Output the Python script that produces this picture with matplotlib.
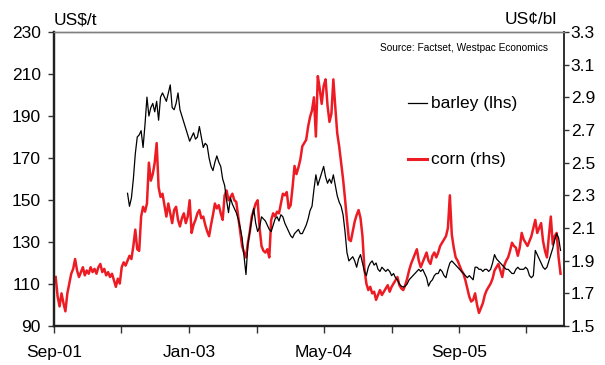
import matplotlib
matplotlib.use("Agg")
import matplotlib.pyplot as plt
import pandas as pd

plt.rcParams["font.family"] = ["Liberation Sans", "DejaVu Sans"]

# Weekly observations (Fridays), Sep 2001 - Sep 2006
dates = pd.date_range("2001-09-07", periods=261, freq="W-FRI")

# Corn price, US cents per bushel (right axis)
corn = [
    1.80, 1.68, 1.62, 1.70, 1.64, 1.59, 1.70, 1.76, 1.82, 1.85,
    1.91, 1.84, 1.80, 1.83, 1.86, 1.81, 1.84, 1.82, 1.86, 1.83,
    1.85, 1.82, 1.86, 1.88, 1.83, 1.85, 1.81, 1.83, 1.80, 1.82,
    1.78, 1.74, 1.79, 1.76, 1.86, 1.89, 1.87, 1.90, 1.93, 1.91,
    1.99, 2.09, 1.97, 1.96, 2.17, 2.23, 2.20, 2.25, 2.50, 2.39,
    2.43, 2.50, 2.62, 2.35, 2.29, 2.31, 2.24, 2.17, 2.25, 2.19,
    2.13, 2.21, 2.23, 2.15, 2.11, 2.16, 2.19, 2.13, 2.17, 2.27,
    2.07, 2.12, 2.15, 2.19, 2.21, 2.16, 2.17, 2.12, 2.08, 2.05,
    2.12, 2.18, 2.25, 2.22, 2.24, 2.19, 2.15, 2.30, 2.33, 2.27,
    2.29, 2.31, 2.27, 2.26, 2.17, 2.08, 1.99, 1.95, 1.92, 2.01,
    2.08, 2.17, 2.21, 2.25, 2.27, 2.10, 1.99, 1.96, 1.95, 1.97,
    1.92, 2.15, 2.19, 2.17, 2.20, 2.19, 2.25, 2.31, 2.30, 2.32,
    2.22, 2.24, 2.35, 2.48, 2.43, 2.47, 2.52, 2.60, 2.62, 2.64,
    2.72, 2.78, 2.82, 2.90, 2.66, 3.03, 2.95, 2.86, 2.97, 3.01,
    2.85, 2.75, 2.80, 3.01, 2.84, 2.68, 2.60, 2.50, 2.40, 2.28,
    2.15, 2.03, 2.02, 2.08, 2.14, 2.18, 2.21, 2.16, 2.05, 1.85,
    1.76, 1.72, 1.74, 1.70, 1.71, 1.66, 1.69, 1.72, 1.69, 1.71,
    1.73, 1.75, 1.71, 1.74, 1.76, 1.78, 1.80, 1.75, 1.73, 1.72,
    1.75, 1.79, 1.84, 1.88, 1.91, 1.94, 1.97, 1.90, 1.86, 1.89,
    1.92, 1.95, 1.90, 1.88, 1.93, 1.95, 1.92, 1.95, 1.99, 2.01,
    2.03, 2.05, 2.10, 2.30, 2.06, 1.98, 1.92, 1.90, 1.87, 1.84,
    1.82, 1.78, 1.73, 1.68, 1.65, 1.66, 1.70, 1.63, 1.58, 1.61,
    1.64, 1.69, 1.72, 1.74, 1.76, 1.79, 1.84, 1.86, 1.88, 1.84,
    1.80, 1.87, 1.90, 1.92, 1.96, 2.01, 1.99, 1.98, 1.93, 1.98,
    2.07, 2.03, 2.01, 1.99, 2.02, 2.05, 2.10, 2.15, 2.07, 2.10,
    2.13, 2.02, 1.96, 1.92, 2.05, 2.17, 2.00, 2.05, 2.07, 1.92,
    1.82,
]

# Barley price, US$ per tonne (left axis), series begins late May 2002
barley = [
    153.2, 147, 151,
    160, 172, 180, 181, 183, 175, 186, 199, 190, 194,
    196, 192, 197, 188, 199, 201, 199, 197, 201, 204.8,
    194, 193, 196, 201, 193, 190, 187, 184, 181, 178,
    180, 182, 179, 180, 185, 180, 175, 177, 176, 170,
    166, 164, 168, 171, 168, 166, 160, 157, 150, 144,
    151, 148, 146, 144, 141, 137, 132, 123, 114.5, 129,
    135, 141, 146, 139, 135, 137, 142, 141, 140, 138,
    136, 135, 138, 141, 142, 140, 143, 142, 139, 137,
    135, 133, 132, 134, 135, 136, 134, 134, 136, 138,
    141, 145, 147, 155, 162, 157, 160, 163, 166, 161,
    158, 160, 158, 162, 157, 152, 149, 147, 143, 135,
    125, 121, 122, 123, 121, 118, 122, 124, 120, 116,
    114, 118, 120, 121, 119, 120, 117, 116, 118, 117,
    116, 117, 116, 114, 115, 113, 112, 110, 109, 108.5,
    109, 110, 112, 113, 114, 115, 116, 117, 116, 117,
    115, 113, 109, 111, 112, 114, 115, 115, 117, 116,
    114, 113, 117, 120, 121, 120, 119, 118, 117, 116,
    115, 114, 113, 114, 113, 112, 118, 118, 117, 117,
    116, 117, 117, 116, 117, 120, 124, 122, 121, 120,
    119, 118, 117, 117, 116, 115, 115, 117, 118, 117,
    117, 117, 118, 117, 114, 113, 114, 126, 124, 122,
    120, 118, 117, 118, 121, 124, 127, 131, 134, 132,
    126,
]
barley_dates = dates[-len(barley):]

left_ticks = [90, 110, 130, 150, 170, 190, 210, 230]
right_ticks = [1.5, 1.7, 1.9, 2.1, 2.3, 2.5, 2.7, 2.9, 3.1, 3.3]
x_ticks = pd.date_range("2001-09-01", periods=8, freq="8MS")
x_labels = [d.strftime("%b-%y") if i % 2 == 0 else "" for i, d in enumerate(x_ticks)]

RED = "#ED1C24"

fig = plt.figure(figsize=(6.05, 3.65), dpi=100)
ax = fig.add_axes([0.0893, 0.1068, 0.8427, 0.8055])
ax2 = ax.twinx()

ax2.plot(dates, corn, color=RED, lw=1.8, solid_joinstyle="round")
ax.plot(barley_dates, barley, color="black", lw=0.9)
ax.set_zorder(ax2.get_zorder() + 1)
ax.patch.set_visible(False)

ax.set_xlim(pd.Timestamp("2001-09-01"), pd.Timestamp("2006-09-13"))
ax.set_ylim(90, 230)
ax2.set_ylim(1.5, 3.3)

ax.set_yticks(left_ticks)
ax.set_yticklabels([str(v) for v in left_ticks])
ax2.set_yticks(right_ticks)
ax2.set_yticklabels([f"{v:.1f}" for v in right_ticks])
ax.set_xticks(x_ticks)
ax.set_xticklabels(x_labels)

ax.tick_params(axis="y", direction="out", length=4.5, width=1, pad=5, labelsize=12.5, color="#333333")
ax.tick_params(axis="x", direction="out", length=5, width=1, pad=9, labelsize=12.5, color="#333333")
ax2.tick_params(axis="y", direction="out", length=3.5, width=1, pad=1.5, labelsize=12.5, color="#333333")

for a in (ax, ax2):
    a.spines["top"].set_color("#7f7f7f")
    a.spines["top"].set_linewidth(1.0)
    a.spines["left"].set_linewidth(1.6)
    a.spines["bottom"].set_linewidth(1.6)
    a.spines["right"].set_linewidth(1.3)
    a.spines["left"].set_color("#222222")
    a.spines["bottom"].set_color("#222222")
    a.spines["right"].set_color("#333333")

fig.text(54 / 605, 1 - 20 / 365, "US$/t", fontsize=12.5, ha="left", va="center")
fig.text(557 / 605, 1 - 20 / 365, "US\u00a2/bl", fontsize=12.5, ha="right", va="center")
fig.text(548 / 605, 1 - 48 / 365, "Source: Factset, Westpac Economics",
         fontsize=7.3, ha="right", va="center")

# Legend entries drawn in axes fraction coordinates
def legend_entry(y_px, color, lw, label):
    x0 = (408 - 54) / 510
    x1 = (427 - 54) / 510
    yf = (326 - y_px) / 294
    ax.plot([x0, x1], [yf, yf], transform=ax.transAxes, color=color, lw=lw, clip_on=False)
    ax.text((431 - 54) / 510, yf, label, transform=ax.transAxes,
            fontsize=12.5, ha="left", va="center")

legend_entry(103, "black", 0.9, "barley (lhs)")
legend_entry(159, RED, 2.2, "corn (rhs)")

fig.savefig("out.png", dpi=100, facecolor="white")
